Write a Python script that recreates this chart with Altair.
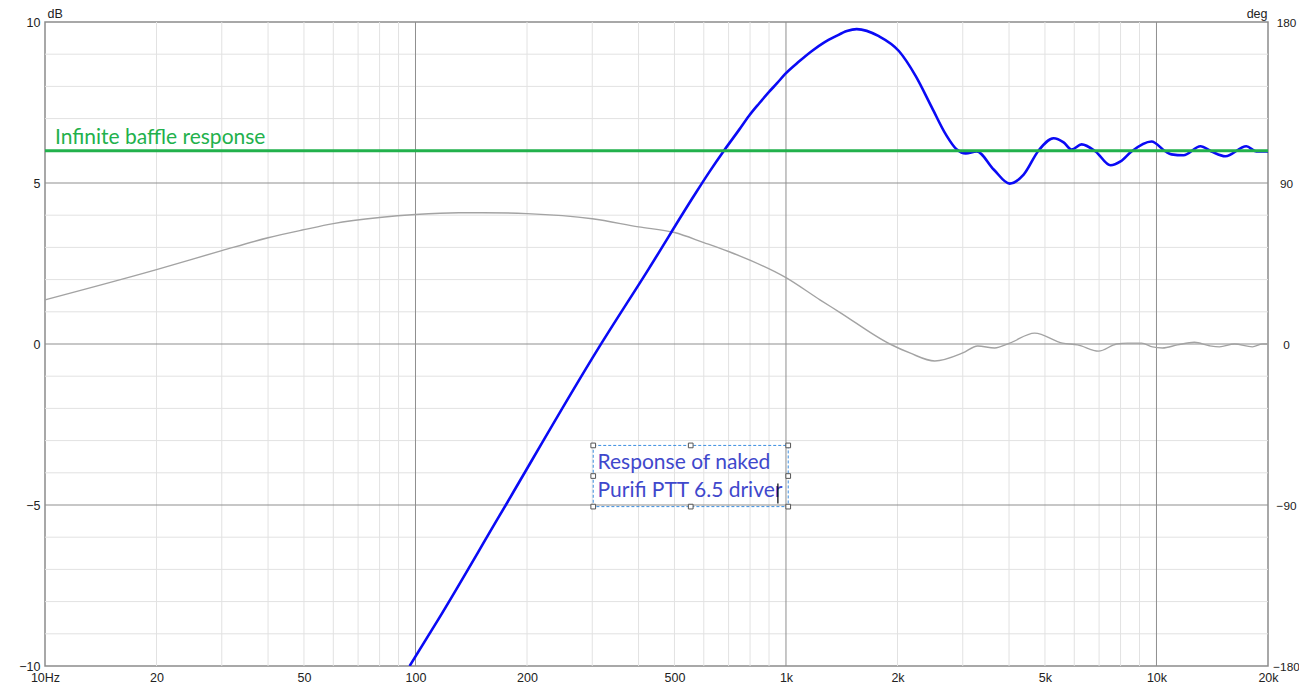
import altair as alt
import pandas as pd

# ---------------- data ----------------
# Naked driver response (blue), frequency in Hz, level in dB
driver_freq = [96.4, 114.6, 168.4, 313.3, 427, 565, 620, 680.7, 747, 795, 846, 900, 946, 994,
               1084, 1175, 1266, 1364, 1460, 1552,
               1781, 2017, 2240, 2475, 2700, 2891, 3056, 3271, 3636, 4016, 4380, 4807, 5278,
               5615, 5901, 6280, 6848, 7516, 7998, 8561, 9694, 10576, 10975, 11826, 13143,
               14069, 15346, 17481, 18601, 20000]
driver_db = [-10.0, -8.6, -5.34, -0.09, 2.35, 4.61, 5.33, 6.01, 6.65, 7.09, 7.47, 7.83, 8.10,
             8.38, 8.77, 9.10, 9.36, 9.56, 9.72, 9.78,
             9.56, 9.10, 8.32, 7.35, 6.51, 6.04, 5.92, 5.98, 5.42, 4.98, 5.26, 6.01, 6.39,
             6.26, 6.04, 6.20, 5.98, 5.55, 5.67, 5.98, 6.29, 5.98, 5.89, 5.86, 6.14,
             5.98, 5.83, 6.14, 5.98, 5.98]

# Phase trace (grey), degrees on the right axis
phase_freq = [10, 20, 30, 40, 50, 60, 80, 100, 131, 152, 200, 300, 400, 500, 600, 700, 1000,
              1235, 1390, 1907, 2159, 2521, 3000, 3292, 3658, 4016, 4690, 5580, 6125, 6978,
              7802, 8350, 9111, 9754, 10380, 11390, 12658, 13900, 14788, 16230, 18150, 19310,
              20000]
phase_deg = [24.7, 41.6, 52.2, 59.4, 63.9, 67.3, 70.7, 72.4, 73.4, 73.4, 72.9, 70.0, 65.5,
             62.3, 56.7, 51.7, 37.1, 24.7, 18.0, 0.0, -5.0, -9.5, -5.0, -1.1, -2.2, 0.5, 6.1,
             0.5, -0.5, -4.0, 0.0, 0.5, 0.5, -1.6, -2.2, -0.5, 1.0, -1.0, -1.6, 0.0, -1.6,
             0.0, 0.0]

# Infinite baffle response (green)
baffle_freq = [10, 20000]
baffle_db = [6.0, 6.0]

# Texts
baffle_label = ["Infinite baffle response"]
driver_label = ["Response of naked", "Purifi PTT 6.5 driver"]

# Axes
x_tick_values = [10, 20, 50, 100, 200, 500, 1000, 2000, 5000, 10000, 20000]
x_tick_labels = ["10Hz", "20", "50", "100", "200", "500", "1k", "2k", "5k", "10k", "20k"]
db_ticks = [-10, -5, 0, 5, 10]
deg_ticks = [-180, -90, 0, 90, 180]

# Grid lines
minor_freq = [20, 30, 40, 50, 60, 70, 80, 90,
              200, 300, 400, 500, 600, 700, 800, 900,
              2000, 3000, 4000, 5000, 6000, 7000, 8000, 9000]
major_freq = [100, 1000, 10000]
minor_db = [-9, -8, -7, -6, -4, -3, -2, -1, 1, 2, 3, 4, 6, 7, 8, 9]
major_db = [-5, 0, 5]

# ---------------- styling ----------------
W, H = 1223, 644
AX_FONT = "Liberation Sans"
AX_SIZE = 12.5
AX_COLOR = "#222222"
NOTE_FONT = "Lato"
NOTE_SIZE = 21

label_expr = "''"
for v, t in reversed(list(zip(x_tick_values, x_tick_labels))):
    label_expr = f"datum.value == {v} ? '{t}' : ({label_expr})"

xscale = alt.Scale(type="log", domain=[10, 20000], nice=False)
yscale = alt.Scale(domain=[-10, 10], nice=False, zero=False)
pscale = alt.Scale(domain=[-180, 180], nice=False, zero=False)

x_axis = alt.Axis(values=x_tick_values, labelExpr=label_expr, title=None, grid=False,
                  ticks=False, tickSize=0, domain=False, labelFlush=False, labelOverlap=False,
                  labelPadding=5, labelFont=AX_FONT, labelFontSize=AX_SIZE, labelColor=AX_COLOR)
y_axis = alt.Axis(values=db_ticks, title="dB", titleAngle=0, titleX=2, titleY=-2,
                  titleAlign="left", titleBaseline="bottom", titleFont=AX_FONT,
                  titleFontSize=AX_SIZE, titleFontWeight="normal", titleColor=AX_COLOR,
                  grid=False, ticks=False, tickSize=0, domain=False, labelPadding=5,
                  labelFlush=False, labelOverlap=False, labelBaseline="middle",
                  labelFont=AX_FONT, labelFontSize=AX_SIZE, labelColor=AX_COLOR)
p_axis = alt.Axis(values=deg_ticks, orient="right", title="deg", titleAngle=0, titleX=-1,
                  titleY=-2, titleAlign="right", titleBaseline="bottom", titleFont=AX_FONT,
                  titleFontSize=AX_SIZE, titleFontWeight="normal", titleColor=AX_COLOR,
                  grid=False, ticks=False, tickSize=0, domain=False, labelPadding=18,
                  labelAlign="center", labelFlush=False, labelOverlap=False,
                  labelBaseline="middle", labelFont=AX_FONT, labelFontSize=11.8,
                  labelColor=AX_COLOR)

X = lambda f="freq": alt.X(f"{f}:Q", scale=xscale, axis=x_axis)
Y = lambda f="db", ax=y_axis: alt.Y(f"{f}:Q", scale=yscale, axis=ax)

# ---------------- grid ----------------
g_minor_v = alt.Chart(pd.DataFrame({"freq": minor_freq})).mark_rule(
    color="#e2e2e2", strokeWidth=1).encode(x=X())
g_minor_h = alt.Chart(pd.DataFrame({"db": minor_db})).mark_rule(
    color="#e2e2e2", strokeWidth=1).encode(y=Y())
g_major_v = alt.Chart(pd.DataFrame({"freq": major_freq})).mark_rule(
    color="#8f8f8f", strokeWidth=1).encode(x=X())
g_major_h = alt.Chart(pd.DataFrame({"db": major_db})).mark_rule(
    color="#8f8f8f", strokeWidth=1).encode(y=Y())
grid = alt.layer(g_minor_v, g_minor_h, g_major_v, g_major_h)

# ---------------- phase ----------------
phase_line = alt.Chart(pd.DataFrame({"freq": phase_freq, "deg": phase_deg})).mark_line(
    color="#a3a3a3", strokeWidth=1.4, interpolate="monotone").encode(
    x=X(), y=alt.Y("deg:Q", scale=pscale, axis=p_axis))

# ---------------- top layers (dB) ----------------
driver_line = alt.Chart(pd.DataFrame({"freq": driver_freq, "db": driver_db})).mark_line(
    color="#0a0af5", strokeWidth=2.6, interpolate="monotone", clip=True).encode(
    x=X(), y=Y(ax=None))

baffle_line = alt.Chart(pd.DataFrame({"freq": baffle_freq, "db": baffle_db})).mark_line(
    color="#22b14c", strokeWidth=3).encode(x=X(), y=Y(ax=None))

baffle_text = alt.Chart(pd.DataFrame({"freq": [10.64], "db": [6.22],
                                      "t": baffle_label})).mark_text(
    align="left", baseline="alphabetic", font=NOTE_FONT, fontSize=NOTE_SIZE,
    color="#22b14c").encode(x=X(), y=Y(ax=None), text="t:N")

# annotation box around the driver text
f_left, f_right = 301.8, 1014.0
d_top, d_bot = -3.15, -5.05
f_mid = (f_left * f_right) ** 0.5
d_mid = (d_top + d_bot) / 2

box = alt.Chart(pd.DataFrame({"f1": [f_left], "f2": [f_right], "d1": [d_top],
                              "d2": [d_bot]})).mark_rect(
    fillOpacity=0, stroke="#3d8fe0", strokeWidth=1, strokeDash=[3, 2]).encode(
    x=alt.X("f1:Q", scale=xscale, axis=x_axis), x2="f2:Q",
    y=alt.Y("d1:Q", scale=yscale, axis=None), y2="d2:Q")

handles = alt.Chart(pd.DataFrame({
    "freq": [f_left, f_mid, f_right, f_left, f_right, f_left, f_mid, f_right],
    "db": [d_top, d_top, d_top, d_mid, d_mid, d_bot, d_bot, d_bot]})).mark_point(
    shape="square", filled=True, fill="white", stroke="#555555", strokeWidth=1,
    size=22, opacity=1).encode(x=X(), y=Y(ax=None))

driver_text = alt.Chart(pd.DataFrame({"freq": [310, 310], "db": [-3.89, -4.74],
                                      "t": driver_label})).mark_text(
    align="left", baseline="alphabetic", font=NOTE_FONT, fontSize=NOTE_SIZE,
    color="#3f48cc").encode(x=X(), y=Y(ax=None), text="t:N")

cursor = alt.Chart(pd.DataFrame({"freq": [951], "d1": [-4.33], "d2": [-4.95]})).mark_rule(
    color="#000000", strokeWidth=1.2).encode(
    x=X(), y=alt.Y("d1:Q", scale=yscale, axis=None), y2="d2:Q")

top = alt.layer(driver_line, baffle_line, baffle_text, box, handles, driver_text, cursor)

chart = alt.layer(grid, phase_line, top).resolve_scale(y="independent").properties(
    width=W, height=H,
    autosize=alt.AutoSizeParams(type="none"),
    padding={"left": 37, "top": 14, "right": 31, "bottom": 20},
    background="white",
).configure_view(stroke="#8c8c8c", strokeWidth=1.5)

chart.save("out.html", embed_options={"renderer": "svg", "actions": False})
